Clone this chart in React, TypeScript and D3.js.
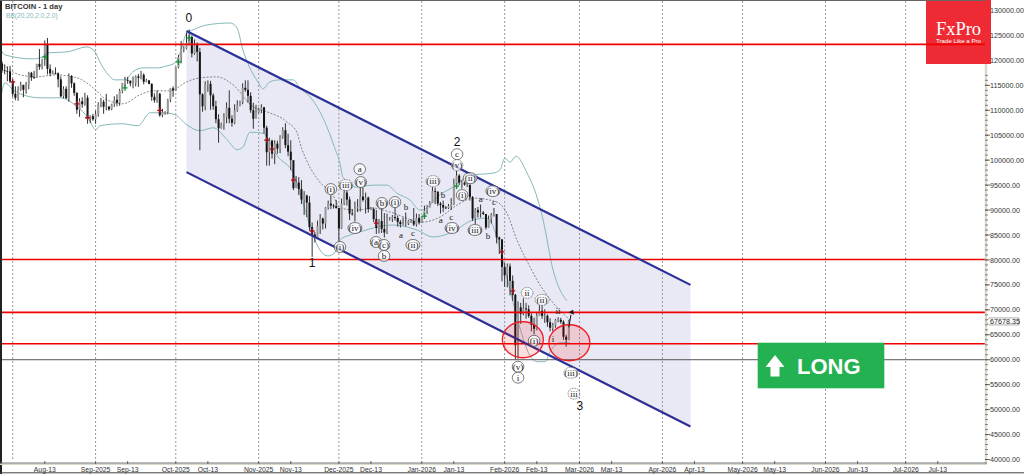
import React from "react";
import * as d3 from "d3";

// Daily candles start on 26 Jul 2025; values in thousands of USD.
const closes = [
  118.0,119.4,118.0,117.9,117.8,115.8,
  113.3,112.5,114.2,115.1,114.1,115.0,117.5,116.6,116.5,119.3,118.7,120.1,123.3,118.3,117.4,117.5,117.4,116.2,112.8,114.3,112.4,116.9,115.4,113.5,110.1,111.8,111.2,112.5,108.4,108.8,108.2,
  109.2,111.2,111.7,110.7,110.7,110.2,111.2,112.1,111.5,113.9,115.5,116.1,115.9,115.4,115.4,116.8,116.5,117.1,115.7,116.0,115.3,112.7,112.0,113.3,109.0,109.6,109.6,112.1,114.4,114.0,
  118.6,120.6,122.3,122.4,123.5,124.7,121.4,123.3,121.7,113.2,110.8,115.2,115.3,113.0,110.8,108.2,106.4,107.2,108.6,110.5,108.3,107.5,110.0,111.0,111.6,114.5,114.1,112.9,110.0,108.3,109.6,
  110.1,110.6,106.5,101.6,103.9,101.3,103.3,102.3,104.7,106.0,103.0,101.7,100.0,94.4,95.5,94.2,92.1,92.9,91.5,86.6,85.1,84.6,86.8,88.3,87.3,90.5,91.3,90.9,90.8,90.4,
  86.3,91.3,93.5,92.1,89.3,89.2,90.4,90.6,92.7,92.0,92.5,90.2,90.2,88.2,86.4,87.8,86.2,85.5,88.1,88.3,88.6,88.4,87.6,87.2,87.2,87.3,87.8,87.8,87.1,88.4,87.5,
  88.7,89.9,90.6,91.4,93.8,93.7,91.3,91.0,90.5,90.4,90.8,91.1,95.3,96.9,95.5,95.5,95.1,95.1,92.6,88.3,90.0,89.5,89.5,89.2,86.5,88.2,89.1,89.2,84.5,84.1,78.6,
  76.9,78.7,75.8,73.0,62.9,70.5,69.2,70.3,70.1,68.8,67.0,66.2,68.8,69.8,68.8,68.8,67.5,66.4,66.9,68.0,68.0,67.6,64.6,64.0,67.678,
];
const highs = [
  118.4,119.8,119.8,119.2,118.8,118.9,
  116.0,114.8,114.8,115.7,115.1,115.7,117.7,117.7,117.9,119.3,122.3,120.3,124.0,124.5,119.2,118.0,118.6,117.6,116.8,114.8,114.8,117.4,117.0,115.6,113.6,112.4,112.6,113.5,113.0,109.0,109.3,
  109.9,111.6,112.5,112.1,113.3,110.9,111.3,112.8,113.2,114.3,115.5,116.7,116.7,116.0,116.8,117.0,117.3,117.9,117.4,116.3,116.0,115.4,113.4,114.0,113.5,110.3,109.8,112.3,114.4,114.8,
  118.7,121.1,123.9,122.9,125.6,126.2,125.0,124.2,123.6,122.5,113.4,115.8,116.0,115.9,113.4,111.9,109.2,107.5,109.4,111.6,114.0,109.0,111.2,112.0,111.9,115.4,116.0,116.0,113.6,111.5,111.1,
  110.5,111.2,110.7,106.9,104.5,104.1,104.0,103.9,105.0,106.6,107.4,105.3,104.0,99.8,96.8,96.6,96.0,93.8,93.1,92.8,87.5,85.6,87.9,89.2,88.5,90.6,91.9,93.0,91.2,92.0,
  90.4,92.3,94.1,94.0,92.7,90.2,91.7,92.2,94.6,94.5,93.5,92.7,90.6,90.5,90.0,88.2,90.3,89.4,89.3,88.6,89.0,90.5,88.9,88.0,88.5,89.5,88.0,88.2,90.4,89.3,89.2,
  88.8,90.9,91.0,91.8,94.6,94.5,93.7,91.6,91.9,90.8,91.2,92.4,96.3,97.9,97.2,96.0,95.6,95.5,93.4,92.8,90.4,90.6,91.1,89.8,89.2,88.9,89.4,90.4,89.2,84.7,84.2,
  79.4,79.3,79.3,76.9,73.2,71.7,71.4,72.3,71.4,70.9,69.3,68.4,69.4,70.9,70.9,70.1,69.1,68.3,67.4,68.2,68.5,68.4,67.9,65.0,68.0,
];
const lows = [
  117.2,117.9,117.5,117.2,115.8,115.5,
  112.7,112.0,111.9,113.9,112.6,113.3,114.2,115.9,116.3,116.5,118.1,118.2,118.9,117.2,116.8,117.2,117.2,114.6,112.6,112.4,112.3,111.7,114.5,112.9,109.3,108.7,110.5,110.9,107.3,107.4,107.9,
  107.3,108.7,110.6,109.3,110.0,109.9,110.0,110.7,110.8,110.9,113.4,114.7,115.3,114.8,114.4,114.8,114.7,116.2,115.2,115.6,115.2,111.9,111.5,111.5,108.7,108.6,109.1,109.2,111.6,112.7,
  113.9,118.4,119.4,121.6,122.2,123.0,120.6,121.1,119.8,102.0,109.7,110.0,113.7,110.1,110.1,107.4,103.5,106.3,106.1,107.4,107.4,106.7,107.2,109.7,110.8,111.2,113.7,111.5,109.5,106.3,108.6,
  109.4,109.4,105.3,98.9,98.9,100.3,99.2,101.3,101.4,104.3,102.4,100.8,98.0,94.0,94.6,93.0,91.2,89.0,88.6,85.9,80.6,83.5,84.6,85.2,86.1,86.3,90.1,90.2,90.3,90.3,
  83.8,86.2,91.0,90.9,88.0,88.9,87.7,89.6,89.7,91.7,89.3,89.5,90.0,87.6,85.2,85.3,85.4,84.5,85.2,87.9,87.6,87.9,86.7,86.5,86.9,86.7,87.0,87.4,86.8,86.7,87.1,
  87.4,88.3,89.2,90.5,91.4,91.2,90.8,89.3,89.6,90.2,90.2,90.0,91.0,94.5,95.0,94.3,94.9,94.6,91.9,87.8,87.2,88.5,88.5,89.0,86.1,86.5,87.3,88.7,83.3,81.2,75.7,
  74.6,74.5,72.9,71.8,60.0,60.2,67.2,68.9,68.2,68.4,65.7,65.1,65.9,68.8,68.2,67.4,66.6,65.7,65.7,66.4,67.5,67.2,64.0,62.6,63.9,
];
const firstCandleDay = -6; // days from 1 Aug 2025

// Bollinger bands: [day from 1 Aug 2025, thousands USD]
const bbUpper: [number, number][] = [[-4.4,122.1],[-2.9,121.1],[7.6,120.3],[11.3,120.7],[13.2,121.5],[20.3,121.7],[27.8,122.7],[30.8,121.7],[32.6,119.7],[35.2,117.5],[38.2,116.1],[42,116.1],[44.9,117.7],[48.8,118.5],[54,118.5],[57.7,118.9],[60.7,119.5],[62.6,121.5],[65.1,125.5],[67.4,126.1],[72.6,127.1],[81.3,127.5],[83.9,126.5],[86.1,122.1],[88.7,118.5],[91.7,115.7],[93.6,114.3],[96.2,115.7],[99.9,116.1],[104.9,116.1],[107.4,114.5],[111.2,112.7],[114.9,109.7],[118.4,105.5],[120.4,102.5],[122.4,99.4],[123.5,96.6],[128.7,94.6],[134.8,95],[140,95],[143.7,93.4],[148.6,92],[152.3,90],[154.9,90.4],[158.7,92.6],[164.7,94.6],[171.1,97],[179.6,97.4],[182.2,98],[184.1,100.4],[186,99.6],[188.2,100.8],[192.4,97.4],[196.1,92.6],[198.4,88],[202.1,78],[204.7,74],[207.3,71.8]];
const bbMiddle: [number, number][] = [[-4.4,119.5],[2.7,117.1],[9,116.7],[15.9,117.1],[24.1,116.5],[30.1,114.5],[35.2,112.1],[41.2,111.3],[47.6,113.1],[52.5,113.9],[58.8,113.9],[65.1,115.7],[70,116.5],[76.4,116.7],[82.4,115.1],[89.9,110.7],[95.1,109.7],[102.5,107.7],[106.4,105.5],[107.4,103.5],[110.4,99.4],[114.9,95.6],[119.8,93],[122.4,90.4],[128.7,90],[134.8,90.4],[141.1,89.6],[153.4,87.6],[159.8,88.6],[166.2,91],[172.2,92.4],[181.1,91.6],[184.8,89.4],[188.6,84],[193.5,78.6],[196.1,76],[202.1,71.4],[208.4,68]];
const bbLower: [number, number][] = [[-4.4,112.7],[-2.9,115.5],[0.1,114.1],[3.8,113.1],[10.2,112.5],[17.7,112.5],[24.1,110.7],[28.2,108.5],[31.1,106.1],[32.6,106.9],[40.8,107.3],[46.9,106.9],[51.4,109.5],[56.2,109.5],[60.7,109.1],[65.1,107.1],[70,105.9],[75,106.5],[80.2,104.1],[83.9,102.1],[86.1,102.6],[88.7,105.6],[93.6,105.4],[96.2,103.6],[98.8,101],[104.9,97.4],[108.6,91.4],[112,85.4],[114.9,82],[117.9,80.8],[120.4,81.4],[122.4,84],[126.1,85],[129.8,85.6],[136.3,86.6],[142.2,87],[151.2,86],[157.2,84.6],[163.6,85.4],[172.2,88],[177.4,88.4],[181.1,84.6],[183.3,80],[189.6,66.6],[192.4,62],[196.1,59.6],[199.1,59.6],[201,61.6],[204.7,63.4],[208.4,63.4]];

const channelDays = [65, 253.5];
const channelUpper = [125.9, 75];
const channelLower = [97.6, 46.6];

const resistance = [123.2, 80.1, 69.5, 63.2];
const supportGrey = 60;
const lastPrice = 67678.35;

const buySignals: [number, number][] = [[12,120.7],[42,114.5],[62,119.7],[66,124.5],[154,88.8],[166,94.8]];
const sellSignals: [number, number][] = [[0,115.7],[24,111.3],[28,108.5],[55,110],[95,104],[97,102.2],[105,96],[112,85.8],[136,87.4],[183,81.6],[187,73.8]];

// [text, day, price (k), style]  style: p plain big, t small plain, c circled, d dashed circle
const waveLabels: [string, number, number, string][] = [
  ["0",65.9,128.5,"p"],["1",112,79.4,"p"],["2",166.2,103.8,"p"],["3",212.1,50.9,"p"],
  ["(i)",119,94.2,"c"],["(iii)",124.6,95,"d"],["a",129.8,98.2,"c"],["(v)",130.2,95.6,"c"],["(iv)",128,86.4,"c"],
  ["(b)",138.1,91.4,"c"],["(i)",143,91.6,"c"],["b",147.1,90.6,"t"],["(a)",135.9,83.6,"c"],["(c)",138.9,83,"c"],["b",138.9,80.8,"c"],
  ["a",145.2,85,"t"],["c",149.7,85.4,"t"],["(ii)",149.7,83,"c"],["(iii)",157.2,95.8,"d"],["b",160.9,93,"t"],["a",160.1,88,"t"],["c",164,88.6,"t"],["(iv)",164.3,86.4,"c"],
  ["c",166.2,101.2,"c"],["(v)",166.2,99,"d"],["(ii)",171.1,96.4,"c"],["(i)",168.1,93,"c"],["(iv)",179.6,93.8,"c"],["a",175.1,92.2,"t"],["c",180,91.6,"t"],["(iii)",172.9,86,"c"],["b",177.8,84.8,"t"],
  ["(i)",122.4,82.6,"c"],["ii",192.4,73.4,"d"],["(ii)",198,72,"d"],["ii",204,69.8,"t"],["i",202.1,64.2,"t"],["(i)",195,63.8,"c"],["(v)",189,58.6,"c"],["i",189,56.4,"c"],["(iii)",208.8,57.4,"d"],["iii",209.9,53.2,"d"],
];

const ellipses: [number, number][] = [[190.8,64],[208.2,63.4]];

const monthTicks: [number, string][] = [[0,""],[31,"Sep-2025"],[61,"Oct-2025"],[92,"Nov-2025"],[122,"Dec-2025"],[153,"Jan-2026"],[184,"Feb-2026"],[212,"Mar-2026"],[243,"Apr-2026"],[273,"May-2026"],[304,"Jun-2026"],[334,"Jul-2026"]];
const midTicks: [number, string][] = [[12,"Aug-13"],[43,"Sep-13"],[73,"Oct-13"],[104,"Nov-13"],[134,"Dec-13"],[165,"Jan-13"],[196,"Feb-13"],[224,"Mar-13"],[255,"Apr-13"],[285,"May-13"],[316,"Jun-13"],[346,"Jul-13"]];
const priceTicks = d3.range(40000, 130001, 5000);
const priceMinorTicks = d3.range(40000, 131001, 1000);

const W = 1024, H = 474, RIGHT = 985, BOTTOM = 463;
const SANS = "'Liberation Sans', Arial, sans-serif";
const SERIF = "'Liberation Serif', 'Times New Roman', serif";
const BASE = Date.UTC(2025, 7, 1);
const dayDate = (d: number) => new Date(BASE + d * 864e5);

const xTime = d3.scaleUtc().domain([dayDate(0), dayDate(334)]).range([12.7, 905.7]);
const x = (d: number) => xTime(dayDate(d));
const yPrice = d3.scaleLinear().domain([40, 130]).range([459.5, 10.5]);

const bandLine = d3.line<[number, number]>().x(p => x(p[0])).y(p => yPrice(p[1])).curve(d3.curveMonotoneX);

export default function App() {
  const candles = closes.map((c, i) => ({ d: firstCandleDay + i, c, o: i ? closes[i - 1] : c, h: highs[i], l: lows[i] }));
  const channelPath = d3.area<number>()
    .x(d => x(d))
    .y0((_, i) => yPrice(channelLower[i]))
    .y1((_, i) => yPrice(channelUpper[i]))(channelDays) as string;

  return (
    <svg width={W} height={H} viewBox={`0 0 ${W} ${H}`} style={{ position: "absolute", left: 0, top: 0, display: "block", background: "#fff" }}>
      <defs>
        <clipPath id="plot"><rect x={1} y={1} width={RIGHT - 1} height={BOTTOM - 1} /></clipPath>
      </defs>
      <path d={channelPath} fill="#e8e9f4" />
      {monthTicks.map(([d]) => (
        <line key={d} x1={x(d)} x2={x(d)} y1={1} y2={BOTTOM - 2} stroke="#999" strokeWidth={1} strokeDasharray="2 2" />
      ))}
      <g clipPath="url(#plot)">
        <path d={bandLine(bbUpper) as string} fill="none" stroke="#86b8ba" strokeWidth={1} />
        <path d={bandLine(bbLower) as string} fill="none" stroke="#86b8ba" strokeWidth={1} />
        <path d={bandLine(bbMiddle) as string} fill="none" stroke="#555" strokeWidth={0.7} strokeDasharray="2 1.5" />
        {candles.map(k => (
          <g key={k.d}>
            <line x1={x(k.d)} x2={x(k.d)} y1={yPrice(k.h)} y2={yPrice(k.l)} stroke="#333" strokeWidth={1} />
            <rect x={x(k.d) - 1} width={2} y={yPrice(Math.max(k.o, k.c))} height={Math.max(0.8, Math.abs(yPrice(k.o) - yPrice(k.c)))} fill={k.c >= k.o ? "#999" : "#141414"} />
          </g>
        ))}
      </g>
      <line x1={0} x2={RIGHT} y1={yPrice(supportGrey)} y2={yPrice(supportGrey)} stroke="#555" strokeWidth={1} />

      <g>
        <rect x={926} y={0} width={65} height={64} fill="#ee2b35" />
        <text x={958.5} y={35} textAnchor="middle" fontFamily={SERIF} fontSize={18.5} fill="#fff">FxPro</text>
        <text x={958.5} y={42.5} textAnchor="middle" fontFamily={SANS} fontSize={6.1} fill="#fff">Trade Like a Pro</text>
      </g>

      {resistance.map(p => (
        <line key={p} x1={0} x2={RIGHT} y1={yPrice(p)} y2={yPrice(p)} stroke="#f00000" strokeWidth={1.6} />
      ))}
      <line x1={x(channelDays[0])} x2={x(channelDays[1])} y1={yPrice(channelUpper[0])} y2={yPrice(channelUpper[1])} stroke="#2b2f96" strokeWidth={2.2} />
      <line x1={x(channelDays[0])} x2={x(channelDays[1])} y1={yPrice(channelLower[0])} y2={yPrice(channelLower[1])} stroke="#2b2f96" strokeWidth={2.2} />

      {ellipses.map(([d, p]) => (
        <ellipse key={d} cx={x(d)} cy={yPrice(p)} rx={20.5} ry={18} fill="#f00" fillOpacity={0.13} stroke="#ee1c25" strokeWidth={1.3} />
      ))}

      {buySignals.map(([d, p]) => (
        <path key={d} d={`M${x(d) - 2.5},${yPrice(p)}h5M${x(d)},${yPrice(p) - 3}v6`} stroke="#109030" strokeWidth={1.3} />
      ))}
      {sellSignals.map(([d, p]) => (
        <path key={d} d={`M${x(d) - 2.5},${yPrice(p)}h5M${x(d)},${yPrice(p) - 3}v6`} stroke="#a01520" strokeWidth={1.3} />
      ))}

      {waveLabels.map(([t, d, p, s], i) => {
        const cx = x(d), cy = yPrice(p);
        if (s === "p") return <text key={i} x={cx} y={cy + 4.5} textAnchor="middle" fontFamily={SANS} fontSize={12} fill="#111">{t}</text>;
        return (
          <g key={i}>
            {s !== "t" && <ellipse cx={cx} cy={cy} rx={t.length > 3 ? 7 : 5.8} ry={5.5} fill="#fff" fillOpacity={0.7} stroke="#444" strokeWidth={0.7} strokeDasharray={s === "d" ? "1 0.7" : undefined} />}
            <text x={cx} y={cy + 3} textAnchor="middle" fontFamily={SERIF} fontSize={9} fill="#1a1a1a">{t}</text>
          </g>
        );
      })}
      <path d={`M${x(208)},${yPrice(66.5)}L${x(208.8)},${yPrice(69)}`} stroke="#111" strokeWidth={1} />
      <path d={`M${x(209.6)},${yPrice(70)}l-4.2,2.4l5,2.4z`} fill="#111" />

      <g>
        <rect x={757.7} y={342.7} width={126.6} height={45.6} fill="#24b151" />
        <path d="M775,355 L784.5,367 L779.5,367 L779.5,376.5 L770.5,376.5 L770.5,367 L765.5,367 Z" fill="#fff" />
        <text x={797} y={373.5} fontFamily={SANS} fontWeight={700} fontSize={22} fill="#fff">LONG</text>
      </g>

      <text x={5} y={9} fontFamily={SANS} fontWeight={700} fontSize={7.6} fill="#333">BITCOIN - 1 day</text>
      <text x={6} y={18} fontFamily={SANS} fontSize={6.6} fill="#86b8ba">BB(20,20,2.0,2.0)</text>

      <line x1={1} x2={1} y1={0} y2={H} stroke="#222" strokeWidth={2} />
      <line x1={0} x2={RIGHT} y1={0.5} y2={0.5} stroke="#666" strokeWidth={1} />
      <line x1={986} x2={986} y1={64} y2={BOTTOM + 1} stroke="#d9d9cc" strokeWidth={2.4} />
      <line x1={0} x2={987} y1={464.3} y2={464.3} stroke="#d9d9cc" strokeWidth={1.6} />
      <line x1={0} x2={987} y1={BOTTOM} y2={BOTTOM} stroke="#666" strokeWidth={0.9} />
      <line x1={0} x2={W} y1={472.8} y2={472.8} stroke="#444" strokeWidth={1} />

      {priceMinorTicks.filter(p => p < 118000).map(p => (
        <line key={p} x1={RIGHT} x2={RIGHT + 3} y1={yPrice(p / 1000)} y2={yPrice(p / 1000)} stroke="#555" strokeWidth={0.7} />
      ))}
      {priceTicks.map(p => (
        <g key={p}>
          {p < 120000 && <line x1={RIGHT} x2={RIGHT + 5} y1={yPrice(p / 1000)} y2={yPrice(p / 1000)} stroke="#444" strokeWidth={0.8} />}
          <text x={990} y={yPrice(p / 1000) + 2.6} fontFamily={SANS} fontSize={7.2} fill="#333">{`${p}.00`}</text>
        </g>
      ))}
      <g>
        <path d={`M${RIGHT + 1},${yPrice(lastPrice / 1000)} l3,-3.5 h30 v7 h-30 z`} fill="#fff" stroke="#777" strokeWidth={0.6} />
        <text x={990} y={yPrice(lastPrice / 1000) + 2.6} fontFamily={SANS} fontSize={7.2} fill="#222">{lastPrice.toFixed(2)}</text>
      </g>

      {[...monthTicks.slice(1), ...midTicks].map(([d, t]) => (
        <g key={t}>
          <line x1={x(d)} x2={x(d)} y1={BOTTOM - 2} y2={BOTTOM + 1} stroke="#444" strokeWidth={0.8} />
          <text x={x(d)} y={471.5} textAnchor="middle" fontFamily={SANS} fontSize={6.8} fill="#333">{t}</text>
        </g>
      ))}
    </svg>
  );
}
